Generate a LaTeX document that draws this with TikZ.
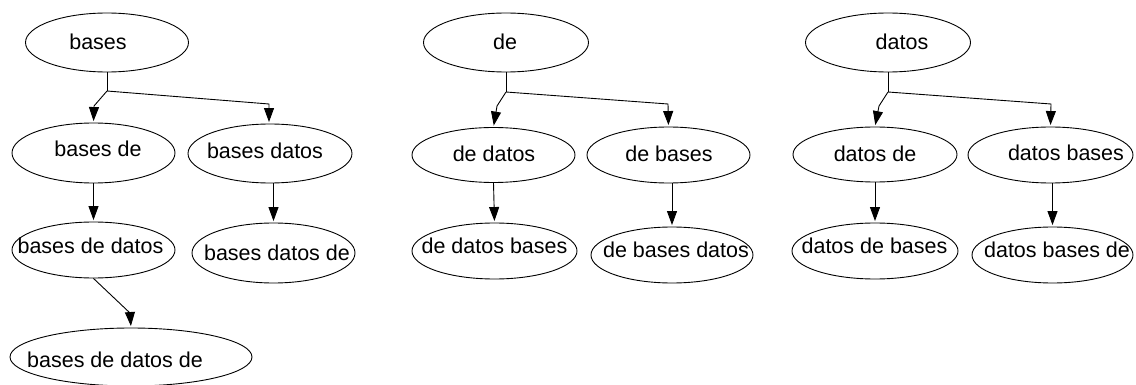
\documentclass[tikz,border=0pt]{standalone}
\usepackage{fontspec}
\setmainfont{Liberation Sans}
\usetikzlibrary{arrows.meta,calc,shapes.geometric}

\tikzset{
  oval/.style args={#1/#2}{ellipse, draw=black, line width=0.9pt, inner sep=0pt,
    minimum width=#1pt, minimum height=#2pt},
  word/.style={anchor=base, inner sep=0pt, font=\fontsize{21.5}{24}\selectfont},
  conn/.style={draw=black, line width=0.9pt, shorten >=1.5pt,
    -{Triangle[length=14pt,width=10pt]}},
}

\begin{document}
\begin{tikzpicture}[x=1pt,y=-1pt]
\useasboundingbox (0,0) rectangle (1136,385);

% ---------- tree rooted at "bases" ----------
\node[oval=163/59] (A) at (107,42.5) {};
\node[word] (At) at (98,50) {bases};
\node[oval=163/60] (B) at (93.5,153) {};
\node[word] (Bt) at (98,157) {bases de};
\node[oval=164/59] (C) at (270,153.5) {};
\node[word] (Ct) at (265,159) {bases datos};
\node[oval=163/56] (D) at (93.5,250) {};
\node[word] (Dt) at (90.5,253) {bases de datos};
\node[oval=163/60] (E) at (273.5,253) {};
\node[word] (Et) at (277,260) {bases datos de};
\node[oval=242/58] (F) at (131,357) {};
\node[word] (Ft) at (115,367) {bases de datos de};

\coordinate (jA) at (107,91);
\draw[line width=0.9pt] (A.south) -- (jA);
\draw[conn] (jA) -- (94,106) -- (B.north);
\draw[conn] (jA) -- (269,104) -- (C.north -| 269,0);
\draw[conn] (B.south) -- (D.north);
\draw[conn] (E.north |- C.south) -- (E.north);
\draw[conn] (D.south) -- (130,313) -- (F.north);

% ---------- tree rooted at "de" ----------
\node[oval=165/59] (G) at (506,42.5) {};
\node[word] (Gt) at (505,50) {de};
\node[oval=163/55] (H) at (493.5,155) {};
\node[word] (Ht) at (494,162) {de datos};
\node[oval=163/56] (I) at (668.5,155) {};
\node[word] (It) at (669,162) {de bases};
\node[oval=165/56] (J) at (494.5,251) {};
\node[word] (Jt) at (494.5,253) {de datos bases};
\node[oval=162/56] (K) at (672,255) {};
\node[word] (Kt) at (676,257) {de bases datos};

\coordinate (jG) at (506,92);
\draw[line width=0.9pt] (G.south) -- (jG);
\draw[conn] (jG) -- (497,106) -- (H.north);
\draw[conn] (jG) -- (668,104) -- (I.north);
\draw[conn] (H.south) -- (J.north);
\draw[conn] (K.north |- I.south) -- (K.north);

% ---------- tree rooted at "datos" ----------
\node[oval=165/59] (L) at (888,42.5) {};
\node[word] (Lt) at (902,50) {datos};
\node[oval=164/55] (M) at (875,154.5) {};
\node[word] (Mt) at (875,162) {datos de};
\node[oval=165/56] (N) at (1050.5,155) {};
\node[word] (Nt) at (1066,161) {datos bases};
\node[oval=166/56] (O) at (875,251) {};
\node[word] (Ot) at (874.5,253) {datos de bases};
\node[oval=161/56] (P) at (1052.5,255) {};
\node[word] (Pt) at (1057,257) {datos bases de};

\coordinate (jL) at (888,92);
\draw[line width=0.9pt] (L.south) -- (jL);
\draw[conn] (jL) -- (879,106) -- (M.north);
\draw[conn] (jL) -- (1051,104) -- (N.north);
\draw[conn] (M.south) -- (O.north);
\draw[conn] (P.north |- N.south) -- (P.north);
\end{tikzpicture}
\end{document}
